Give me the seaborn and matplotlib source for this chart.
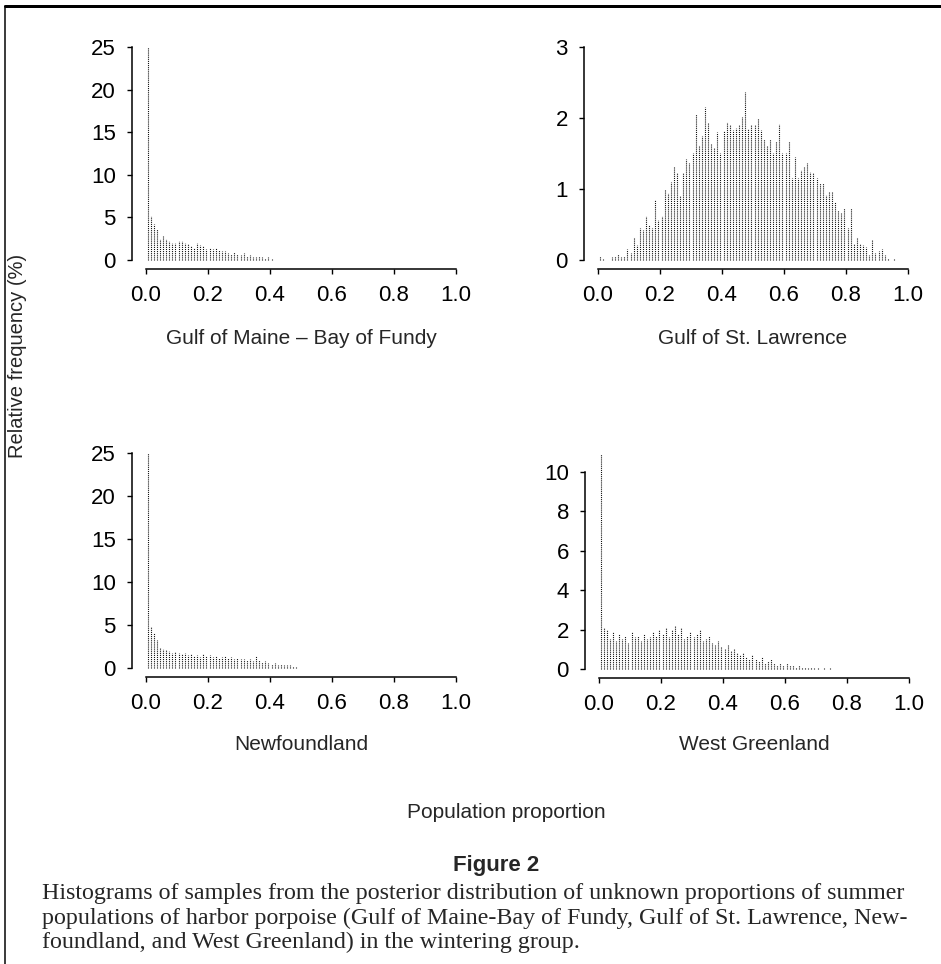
"""
Figure 2: histograms of posterior samples of the unknown proportions of
summer harbor porpoise populations in the wintering group.
"""

import matplotlib

matplotlib.use("Agg")
import matplotlib.pyplot as plt
import numpy as np
import seaborn as sns
from matplotlib.lines import Line2D

# ── data (relative frequency in %, one value per 0.01-wide bin) ───────────────

BIN_WIDTH = 0.01
N_BINS = 100

GULF_OF_MAINE = [
    25.0, 5.2, 4.2, 3.6, 2.5, 2.8, 2.5, 2.2, 2.0, 2.0,
    2.2, 2.2, 2.0, 1.9, 1.6, 1.4, 2.0, 1.8, 1.7, 1.3,
    1.4, 1.3, 1.4, 1.2, 1.1, 1.0, 0.8, 0.7, 0.9, 0.7,
    0.6, 0.8, 0.5, 0.6, 0.4, 0.3, 0.5, 0.3, 0.2, 0.3,
    0.1, 0.0, 0.05, 0.0, 0.0, 0.05, 0.0, 0.05, 0.0, 0.05,
]
ST_LAWRENCE = [
    0.06, 0.02, 0.0, 0.0, 0.04, 0.05, 0.08, 0.04, 0.05, 0.16,
    0.10, 0.33, 0.21, 0.45, 0.42, 0.62, 0.49, 0.45, 0.84, 0.57,
    0.62, 1.00, 0.94, 1.10, 1.32, 1.22, 0.90, 1.22, 1.42, 1.36,
    1.50, 2.05, 1.62, 1.74, 2.16, 1.93, 1.63, 1.58, 1.80, 1.50,
    1.81, 1.95, 1.90, 1.83, 1.86, 1.90, 2.02, 2.37, 1.85, 1.90,
    1.90, 2.00, 1.83, 1.71, 1.60, 1.71, 1.50, 1.67, 1.92, 1.50,
    1.50, 1.67, 1.15, 1.45, 1.15, 1.27, 1.31, 1.36, 1.24, 1.22,
    1.15, 1.08, 1.08, 0.92, 0.96, 0.96, 0.82, 0.70, 0.66, 0.73,
    0.45, 0.73, 0.23, 0.33, 0.23, 0.21, 0.19, 0.07, 0.28, 0.10,
    0.12, 0.16, 0.07, 0.03, 0.0, 0.02,
]
NEWFOUNDLAND = [
    25.0, 4.8, 4.1, 3.3, 2.3, 2.2, 2.1, 2.0, 1.8, 1.9,
    1.7, 1.6, 1.8, 1.5, 1.6, 1.4, 1.5, 1.3, 1.6, 1.4,
    1.5, 1.3, 1.4, 1.2, 1.3, 1.4, 1.2, 1.3, 1.1, 1.2,
    1.0, 1.1, 0.9, 1.0, 0.8, 1.4, 0.9, 0.7, 0.8, 0.6,
    0.5, 0.6, 0.4, 0.5, 0.3, 0.4, 0.3, 0.2, 0.1, 0.0,
    0.05, 0.0, 0.0, 0.05,
]
WEST_GREENLAND = [
    10.9, 2.1, 2.0, 1.5, 1.9, 1.4, 1.8, 1.5, 1.7, 1.3,
    1.9, 1.6, 1.7, 1.4, 1.8, 1.5, 1.6, 1.9, 1.7, 2.0,
    1.8, 2.1, 1.6, 2.0, 2.2, 1.8, 2.1, 1.5, 1.7, 1.9,
    1.6, 1.8, 2.0, 1.4, 1.5, 1.7, 1.3, 1.2, 1.4, 1.1,
    1.0, 1.2, 0.9, 1.0, 0.8, 0.7, 0.8, 0.6, 0.5, 0.7,
    0.5, 0.4, 0.6, 0.3, 0.4, 0.5, 0.3, 0.2, 0.3, 0.2,
    0.3, 0.2, 0.2, 0.1, 0.2, 0.1, 0.1, 0.05, 0.1, 0.05,
    0.05, 0.0, 0.05, 0.0, 0.05,
]

PANEL_LABELS = [
    "Gulf of Maine – Bay of Fundy",
    "Gulf of St. Lawrence",
    "Newfoundland",
    "West Greenland",
]
Y_TICKS = [
    [0, 5, 10, 15, 20, 25],
    [0, 1, 2, 3],
    [0, 5, 10, 15, 20, 25],
    [0, 2, 4, 6, 8, 10],
]
X_TICKS = [0.0, 0.2, 0.4, 0.6, 0.8, 1.0]
X_TICK_LABELS = ["0.0", "0.2", "0.4", "0.6", "0.8", "1.0"]

CAPTION_LINES = [
    "Histograms of samples from the posterior distribution of unknown proportions of summer",
    "populations of harbor porpoise (Gulf of Maine-Bay of Fundy, Gulf of St. Lawrence, New-",
    "foundland, and West Greenland) in the wintering group.",
]

# ── style ─────────────────────────────────────────────────────────────────────

sns.set_theme(style="ticks")
plt.rcParams.update(
    {
        "font.family": ["Liberation Sans", "DejaVu Sans"],
        "axes.linewidth": 1.1,
        "xtick.major.width": 1.0,
        "ytick.major.width": 1.0,
        "xtick.color": "black",
        "ytick.color": "black",
        "axes.edgecolor": "black",
    }
)

W, H = 941, 964
DPI = 100
PT = 72 / DPI  # points per pixel


def px_rect(left, right, top, bottom):
    return [left / W, 1 - bottom / H, (right - left) / W, (bottom - top) / H]


def padded(values):
    arr = np.zeros(N_BINS)
    arr[: len(values)] = values
    return arr


def draw_panel(ax, values, yticks, label, label_y):
    centers = np.arange(N_BINS) * BIN_WIDTH + BIN_WIDTH / 2
    heights = padded(values)
    keep = heights > 0
    # each bin drawn as a stippled vertical line, like the printed original
    ax.vlines(
        centers[keep], 0, heights[keep],
        colors="#141414", linewidth=1.1 * PT, linestyles=(0, (1.0, 0.9)),
        clip_on=False,
    )
    ax.set_xlim(0, 1)
    ax.set_ylim(0, yticks[-1])
    ax.set_xticks(X_TICKS, X_TICK_LABELS)
    ax.set_yticks(yticks, [str(t) for t in yticks])
    ax.tick_params(axis="both", labelsize=16, pad=8, length=5 * PT)
    sns.despine(ax=ax)
    ax.spines["left"].set_position(("outward", 14 * PT))
    ax.spines["bottom"].set_position(("outward", 9 * PT))
    ax.spines["left"].set_bounds(0, yticks[-1])
    ax.spines["bottom"].set_bounds(0, 1)
    ax.patch.set_alpha(0)
    bbox = ax.get_position()
    ax.figure.text(
        (bbox.x0 + bbox.x1) / 2, 1 - label_y / H, label,
        ha="center", va="center", fontsize=15,
    )


fig = plt.figure(figsize=(W / DPI, H / DPI), dpi=DPI)

rects = [
    px_rect(146, 456, 47, 260),
    px_rect(598, 908, 47, 260),
    px_rect(146, 456, 453, 668),
    px_rect(599, 909, 472, 669),
]
label_ys = [338, 338, 745, 745]
series = [GULF_OF_MAINE, ST_LAWRENCE, NEWFOUNDLAND, WEST_GREENLAND]

for rect, values, yticks, label, ly in zip(rects, series, Y_TICKS, PANEL_LABELS, label_ys):
    ax = fig.add_axes(rect)
    draw_panel(ax, values, yticks, label, ly)

fig.text(18 / W, 1 - 356 / H, "Relative frequency (%)", rotation=90,
         ha="center", va="center", fontsize=14.5)
fig.text(506 / W, 1 - 813 / H, "Population proportion",
         ha="center", va="center", fontsize=15)
fig.text(496 / W, 1 - 866 / H, "Figure 2", ha="center", va="center",
         fontsize=16, fontweight="bold")
for line, y in zip(CAPTION_LINES, [893, 918, 942]):
    fig.text(42 / W, 1 - y / H, line, ha="left", va="center", fontsize=17.3,
             family=["Liberation Serif", "DejaVu Serif"])

# frame around the figure (thick top edge, thin left edge)
fig.add_artist(Line2D([5 / W, 1], [1 - 6 / H, 1 - 6 / H], transform=fig.transFigure,
                      color="black", linewidth=3 * PT))
fig.add_artist(Line2D([5 / W, 5 / W], [0, 1 - 6 / H], transform=fig.transFigure,
                      color="black", linewidth=1.5 * PT))

fig.savefig("out.png", dpi=DPI)
plt.close(fig)
